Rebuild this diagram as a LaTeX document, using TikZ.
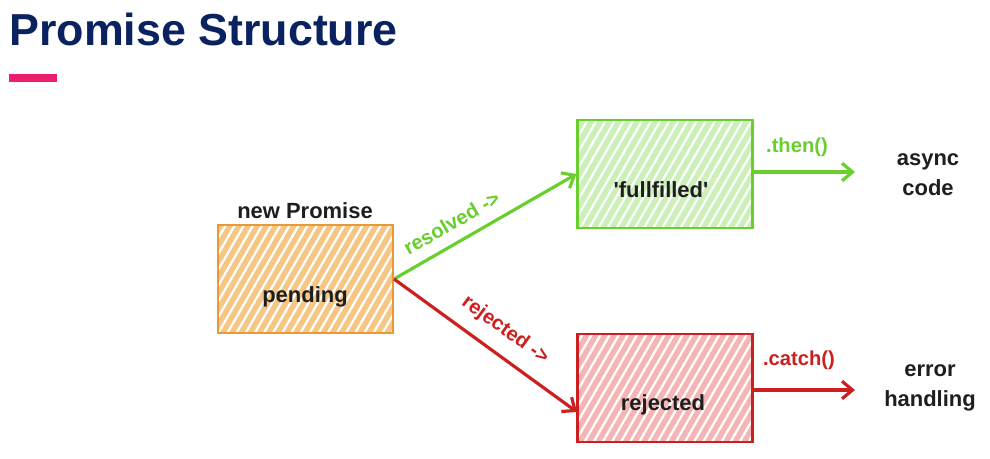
\documentclass[tikz,border=0pt]{standalone}
\usepackage{fontspec}
\setmainfont{Liberation Sans}[Ligatures=TeXOff]
\usetikzlibrary{arrows.meta,patterns.meta,calc}
\definecolor{navy}{HTML}{0B2260}
\definecolor{pinkbar}{HTML}{EC1E6E}
\definecolor{orangeln}{HTML}{E99A35}
\definecolor{orangefl}{HTML}{F6C684}
\definecolor{greenln}{HTML}{68CF2C}
\definecolor{greenfl}{HTML}{CDEFB8}
\definecolor{redln}{HTML}{CC1F1F}
\definecolor{redfl}{HTML}{F6B5B5}
\definecolor{txt}{HTML}{1E1E1E}
\begin{document}
\begin{tikzpicture}[x=0.02cm,y=-0.02cm,
  statebox/.style n args={2}{draw=#1, line width=1.2pt, minimum width=3.5cm, minimum height=2.16cm, inner sep=0pt,
    preaction={fill=#2},
    preaction={pattern={Lines[angle=60,distance=4.5pt,line width=1.3pt]}, pattern color=white}},
  boxtext/.style={font=\bfseries\fontsize{12.5}{14}\selectfont, text=txt},
  flow/.style={line width=1.8pt, -{Straight Barb[length=6pt,width=10pt,line width=1.8pt]}},
  lbl/.style={font=\bfseries\fontsize{11.5}{13}\selectfont},
  outtext/.style={font=\bfseries\fontsize{12.5}{17}\selectfont, text=txt, align=center}]
\useasboundingbox (0,0) rectangle (990,458);
\fill[white] (0,0) rectangle (990,458);
% title
\node[anchor=base west, inner sep=0pt, font=\bfseries\fontsize{25.5}{30}\selectfont, text=navy] (title) at (9,45) {Promise Structure};
\fill[pinkbar] (9,74) rectangle (57,82);
% boxes
\node[statebox={orangeln}{orangefl}] (pending) at (305.5,279) {};
\node[statebox={greenln}{greenfl}] (fulfilled) at (665,174) {};
\node[statebox={redln}{redfl}] (rejected) at (665,388) {};
\node[boxtext] (pendtxt) at (305,297) {pending};
\node[boxtext] (fultxt) at (661,190) {'fullfilled'};
\node[boxtext] (rejtxt) at (663,405) {rejected};
\node[boxtext] (newp) at (305,211) {new Promise};
% connectors
\coordinate (rin) at (577,412);
\coordinate (thenend) at (855,172);
\coordinate (catchend) at (855,390);
\draw[flow, greenln] (pending.east) -- node[lbl, sloped, above=3pt, pos=0.37, text=greenln] (reslbl) {resolved ->} (fulfilled.west);
\draw[flow, redln] (pending.east) -- node[lbl, sloped, above=4pt, pos=0.53, text=redln] (rejlbl) {rejected ->} (rin);
\draw[flow, greenln] (fulfilled.east |- thenend) -- (thenend);
\draw[flow, redln] (rejected.east |- catchend) -- (catchend);
\node[lbl, text=greenln] (thenlbl) at (797,147) {.then()};
\node[lbl, text=redln] (catchlbl) at (799,360) {.catch()};
\node[outtext] (async) at (928,175) {async\\code};
\node[outtext] (errh) at (930,388) {error\\handling};
\end{tikzpicture}
\end{document}
